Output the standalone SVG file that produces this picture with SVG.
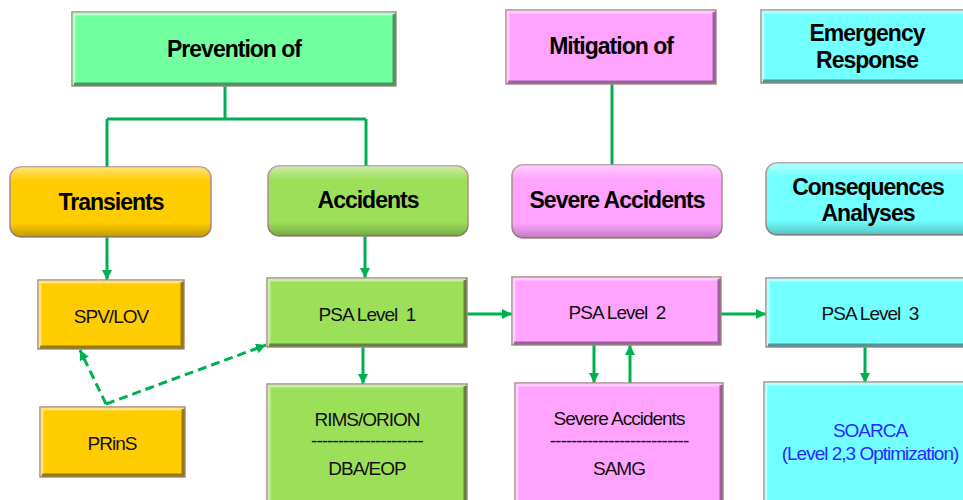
<svg xmlns="http://www.w3.org/2000/svg" width="963" height="500" viewBox="0 0 963 500">
  <defs>
    <marker id="arrow" viewBox="0 0 10 10" refX="10" refY="5" markerWidth="10" markerHeight="10" markerUnits="userSpaceOnUse" orient="auto">
      <path d="M0,0 L10,5 L0,10 Z" fill="#00B050"/>
    </marker>
    <linearGradient id="gloss" x1="0" y1="0" x2="0" y2="1">
      <stop offset="0" stop-color="#fff" stop-opacity="0.45"/>
      <stop offset="0.2" stop-color="#fff" stop-opacity="0"/>
      <stop offset="0.8" stop-color="#000" stop-opacity="0"/>
      <stop offset="1" stop-color="#000" stop-opacity="0.25"/>
    </linearGradient>
  </defs>
  <style>
    .box { stroke: #a88c8c; stroke-width: 1.5; }
    .gloss { fill: url(#gloss); stroke: none; }
    .hi { fill: none; stroke: #fff; stroke-opacity: 0.45; stroke-width: 3; }
    .lo { fill: none; stroke: #000; stroke-opacity: 0.4; stroke-width: 3; }
    .mint { fill: #72FFA0; }
    .gold { fill: #FFCC00; }
    .lime { fill: #9CE05A; }
    .pink { fill: #FFA3FF; }
    .cyan { fill: #72FFFF; }
    .hd { font-family: "Liberation Sans", Arial, sans-serif; font-weight: bold; font-size: 23px; letter-spacing: -1px; text-anchor: middle; fill: #000; }
    .tx { font-family: "Liberation Sans", Arial, sans-serif; font-size: 19px; letter-spacing: -1px; text-anchor: middle; fill: #111; }
    .blue { fill: #2b2bff; }
    .line { fill: none; stroke: #00B050; stroke-width: 3; }
    .dash { stroke-dasharray: 9 5; }
  </style>

  <!-- connectors -->
  <g id="connectors">
    <path class="line" d="M225,86 V119 M107,119 H366 M107,119 V167 M366,119 V166"/>
    <path class="line" d="M612,84 V165"/>
    <path class="line" d="M107,237 V280" marker-end="url(#arrow)"/>
    <path class="line" d="M365,236 V278" marker-end="url(#arrow)"/>
    <path class="line" d="M363,347 V384" marker-end="url(#arrow)"/>
    <path class="line" d="M467,314 H512" marker-end="url(#arrow)"/>
    <path class="line" d="M594,345 V383" marker-end="url(#arrow)"/>
    <path class="line" d="M630,383 V345" marker-end="url(#arrow)"/>
    <path class="line" d="M721,314 H766" marker-end="url(#arrow)"/>
    <path class="line" d="M865,347 V383" marker-end="url(#arrow)"/>
    <path class="line dash" d="M106,404 L80,350" marker-end="url(#arrow)"/>
    <path class="line dash" d="M106,404 L266,345" marker-end="url(#arrow)"/>
  </g>

  <!-- top row -->
  <g id="prevention">
    <rect class="box mint" x="72" y="12" width="324" height="74"/>
    <path class="hi" d="M74,84 V14 H394"/>
    <path class="lo" d="M74,84 H394 V14"/>
    <text class="hd" x="234" y="57">Prevention of</text>
  </g>
  <g id="mitigation">
    <rect class="box pink" x="506" y="10" width="210" height="74"/>
    <path class="hi" d="M508,82 V12 H714"/>
    <path class="lo" d="M508,82 H714 V12"/>
    <text class="hd" x="611" y="54">Mitigation of</text>
  </g>
  <g id="emergency">
    <rect class="box cyan" x="761" y="10" width="215" height="73"/>
    <path class="hi" d="M763,81 V12 H974"/>
    <path class="lo" d="M763,81 H974"/>
    <text class="hd" x="867" y="41">Emergency</text>
    <text class="hd" x="867" y="68">Response</text>
  </g>

  <!-- second row -->
  <g id="transients">
    <rect class="box gold" x="10" y="167" width="201" height="70" rx="11"/>
    <rect class="gloss" x="10" y="167" width="201" height="70" rx="11"/>
    <text class="hd" x="111" y="210">Transients</text>
  </g>
  <g id="accidents">
    <rect class="box lime" x="268" y="166" width="200" height="70" rx="11"/>
    <rect class="gloss" x="268" y="166" width="200" height="70" rx="11"/>
    <text class="hd" x="368" y="208">Accidents</text>
  </g>
  <g id="severe-accidents">
    <rect class="box pink" x="512" y="165" width="210" height="73" rx="11"/>
    <rect class="gloss" x="512" y="165" width="210" height="73" rx="11"/>
    <text class="hd" x="617" y="208">Severe Accidents</text>
  </g>
  <g id="consequences">
    <rect class="box cyan" x="766" y="163" width="212" height="72" rx="11"/>
    <rect class="gloss" x="766" y="163" width="212" height="72" rx="11"/>
    <text class="hd" x="868" y="195">Consequences</text>
    <text class="hd" x="868" y="221">Analyses</text>
  </g>

  <!-- third row -->
  <g id="spv-lov">
    <rect class="box gold" x="38" y="280" width="146" height="69"/>
    <path class="hi" d="M40,347 V282 H182"/>
    <path class="lo" d="M40,347 H182 V282"/>
    <text class="tx" x="111" y="323">SPV/LOV</text>
  </g>
  <g id="psa1">
    <rect class="box lime" x="267" y="278" width="200" height="69"/>
    <path class="hi" d="M269,345 V280 H465"/>
    <path class="lo" d="M269,345 H465 V280"/>
    <text class="tx" x="367" y="321">PSA Level &#160;1</text>
  </g>
  <g id="psa2">
    <rect class="box pink" x="512" y="277" width="209" height="68"/>
    <path class="hi" d="M514,343 V279 H719"/>
    <path class="lo" d="M514,343 H719 V279"/>
    <text class="tx" x="617" y="319">PSA Level &#160;2</text>
  </g>
  <g id="psa3">
    <rect class="box cyan" x="766" y="278" width="212" height="69"/>
    <path class="hi" d="M768,345 V280 H976"/>
    <path class="lo" d="M768,345 H976"/>
    <text class="tx" x="870" y="320">PSA Level &#160;3</text>
  </g>

  <!-- bottom row -->
  <g id="prins">
    <rect class="box gold" x="40" y="407" width="145" height="70"/>
    <path class="hi" d="M42,475 V409 H183"/>
    <path class="lo" d="M42,475 H183 V409"/>
    <text class="tx" x="112" y="450">PRinS</text>
  </g>
  <g id="rims-orion">
    <rect class="box lime" x="267" y="384" width="200" height="122"/>
    <path class="hi" d="M269,504 V386 H465"/>
    <path class="lo" d="M465,504 V386"/>
    <text class="tx" x="367" y="426">RIMS/ORION</text>
    <text class="tx" x="367" y="447">---------------------</text>
    <text class="tx" x="367" y="475">DBA/EOP</text>
  </g>
  <g id="samg">
    <rect class="box pink" x="515" y="383" width="208" height="122"/>
    <path class="hi" d="M517,503 V385 H721"/>
    <path class="lo" d="M721,503 V385"/>
    <text class="tx" x="619" y="425">Severe Accidents</text>
    <text class="tx" x="619" y="447">--------------------------</text>
    <text class="tx" x="619" y="475">SAMG</text>
  </g>
  <g id="soarca">
    <rect class="box cyan" x="764" y="382" width="212" height="122"/>
    <path class="hi" d="M766,502 V384 H974"/>
    <text class="tx blue" x="870" y="437">SOARCA</text>
    <text class="tx blue" x="870" y="460">(Level 2,3 Optimization)</text>
  </g>
</svg>
